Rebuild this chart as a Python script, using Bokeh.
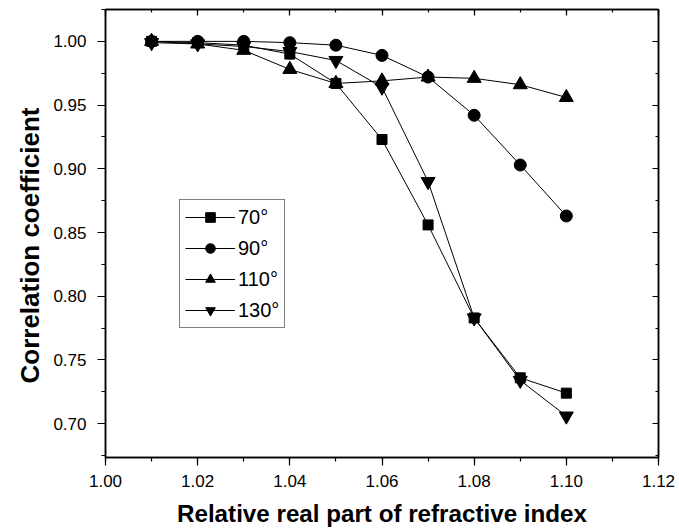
from bokeh.plotting import figure
from bokeh.models import (LinearAxis, SingleIntervalTicker, PrintfTickFormatter,
                          Range1d, Legend, LegendItem, Title)
from bokeh.embed import file_html
from bokeh.resources import INLINE

# ---- data ----
x_values = [1.01, 1.02, 1.03, 1.04, 1.05, 1.06, 1.07, 1.08, 1.09, 1.10]
s70 = [1.000, 0.999, 0.997, 0.990, 0.967, 0.923, 0.856, 0.783, 0.736, 0.724]
s90 = [1.000, 1.000, 1.000, 0.999, 0.997, 0.989, 0.972, 0.942, 0.903, 0.863]
s110 = [1.000, 0.998, 0.993, 0.978, 0.967, 0.969, 0.972, 0.971, 0.966, 0.956]
s130 = [0.999, 0.998, 0.996, 0.992, 0.985, 0.964, 0.890, 0.783, 0.734, 0.706]
labels = ["70°", "90°", "110°", "130°"]
x_title = "Relative real part of refractive index"
y_title = "Correlation coefficient"

FONT = "Liberation Sans"

p = figure(width=679, height=529, output_backend="svg", toolbar_location=None,
           x_range=Range1d(1.00, 1.12), y_range=Range1d(0.6735, 1.025),
           min_border_left=105, min_border_right=21, min_border_top=9,
           min_border_bottom=69)
p.background_fill_color = "white"
p.border_fill_color = "white"
p.outline_line_color = "black"
p.outline_line_width = 1.5
p.xgrid.visible = False
p.ygrid.visible = False

series = [
    (s70, "square", 10),
    (s90, "circle", 12),
    (s110, "triangle", 14),
    (s130, "inverted_triangle", 14),
]
items = []
for (vals, marker, size), lab in zip(series, labels):
    r1 = p.line(x_values, vals, line_color="black", line_width=1)
    r2 = p.scatter(x_values, vals, marker=marker, size=size,
                   fill_color="black", line_color="black")
    items.append(LegendItem(label=lab, renderers=[r1, r2]))

def style_axis(ax):
    ax.axis_line_color = "black"
    ax.axis_line_width = 1.5
    ax.major_tick_line_color = "black"
    ax.minor_tick_line_color = "black"
    ax.major_tick_line_width = 1.2
    ax.minor_tick_line_width = 1.2
    ax.major_label_text_font = FONT
    ax.major_label_text_color = "black"
    ax.axis_label_text_font = FONT
    ax.axis_label_text_font_style = "bold"
    ax.axis_label_text_color = "black"

xa = p.xaxis[0]
xa.ticker = SingleIntervalTicker(interval=0.02, num_minor_ticks=2)
xa.formatter = PrintfTickFormatter(format="%.2f")
style_axis(xa)
xa.major_tick_out = 8
xa.major_tick_in = 0
xa.minor_tick_out = 4
xa.minor_tick_in = 0
xa.major_label_text_font_size = "17px"
xa.major_label_standoff = 9
xa.axis_label = x_title
xa.axis_label_text_font_size = "24.2px"
xa.axis_label_standoff = 10

ya = p.yaxis[0]
ya.ticker = SingleIntervalTicker(interval=0.05, num_minor_ticks=2)
ya.formatter = PrintfTickFormatter(format="%.2f")
style_axis(ya)
ya.major_tick_out = 8
ya.major_tick_in = 0
ya.minor_tick_out = 4
ya.minor_tick_in = 0
ya.major_label_text_font_size = "17px"
ya.major_label_standoff = 11

ytitle = Title(text=y_title, align="left", offset=74, vertical_align="middle",
               text_font=FONT, text_font_size="26px", text_font_style="bold",
               text_color="black", standoff=10)
p.add_layout(ytitle, "left")

top = LinearAxis(ticker=SingleIntervalTicker(interval=0.02, num_minor_ticks=2),
                 major_label_text_font_size="1px", major_label_standoff=0,
                 major_label_text_color=None)
style_axis(top)
top.major_label_text_color = None
top.major_tick_out = 0
top.major_tick_in = 6
top.minor_tick_out = 0
top.minor_tick_in = 3
p.add_layout(top, "above")

right = LinearAxis(ticker=SingleIntervalTicker(interval=0.05, num_minor_ticks=2),
                   major_label_text_font_size="1px", major_label_standoff=0,
                   major_label_text_color=None)
style_axis(right)
right.major_label_text_color = None
right.major_tick_out = 0
right.major_tick_in = 6
right.minor_tick_out = 0
right.minor_tick_in = 3
p.add_layout(right, "right")

legend = Legend(items=items, location=(74, 129))
legend.label_text_font = FONT
legend.label_text_font_size = "20px"
legend.label_text_color = "black"
legend.glyph_width = 50
legend.glyph_height = 24
legend.label_height = 24
legend.spacing = 7
legend.padding = 5
legend.margin = 0
legend.label_standoff = 3
legend.border_line_color = "black"
legend.border_line_width = 1
legend.background_fill_alpha = 1.0
p.add_layout(legend, "center")

open("out.html", "w").write(file_html(p, INLINE))
